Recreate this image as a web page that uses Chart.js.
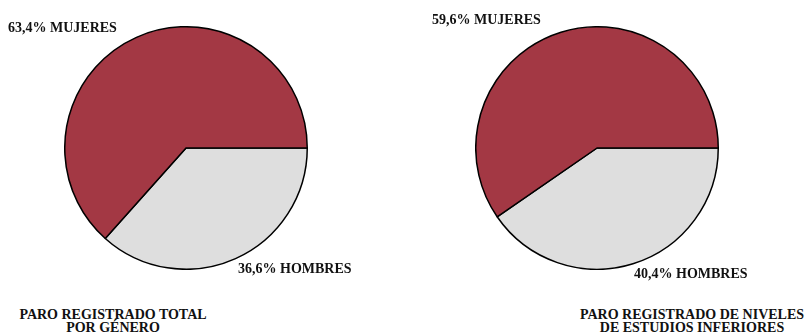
<!DOCTYPE html>
<html>
<head>
<meta charset="utf-8">
<script src="https://cdn.jsdelivr.net/npm/chart.js@4"></script>
<style>
  body { margin: 0; background: #fff; width: 805px; height: 335px; position: relative; overflow: hidden; }
  .pie { position: absolute; width: 244px; height: 244px; }
  .lbl { position: absolute; font-family: "Liberation Serif", "Times New Roman", serif; font-weight: bold; font-size: 14px; color: #111; white-space: nowrap; line-height: 14px; }
  .title { text-align: center; line-height: 13px; }
</style>
</head>
<body>
<div class="pie" style="left:64px; top:26px;"><canvas id="pieTotal"></canvas></div>
<div class="pie" style="left:475px; top:26px;"><canvas id="pieEstudios"></canvas></div>

<div class="lbl" id="lblMujeres1" style="left:8px; top:21px;"></div>
<div class="lbl" id="lblHombres1" style="left:238px; top:262px;"></div>
<div class="lbl" id="lblMujeres2" style="left:432px; top:13px;"></div>
<div class="lbl" id="lblHombres2" style="left:634px; top:267px;"></div>
<div class="lbl title" style="left:13px; width:200px; top:308px;">PARO REGISTRADO TOTAL<br>POR GÉNERO</div>
<div class="lbl title" style="left:572px; width:240px; top:308px;">PARO REGISTRADO DE NIVELES<br>DE ESTUDIOS INFERIORES</div>

<script>
// Categories and values (percent)
const categories = ['HOMBRES', 'MUJERES'];
const totalValues = [36.6, 63.4];
const estudiosValues = [40.4, 59.6];

const sliceColors = ['#dedede', '#a33844'];

function fmt(v) {
    return v.toFixed(1).replace('.', ',') + '%';
}

function makePie(id, values) {
    const ctx = document.getElementById(id).getContext('2d');
    new Chart(ctx, {
        type: 'pie',
        data: {
            labels: categories,
            datasets: [{
                data: values,
                backgroundColor: sliceColors,
                borderColor: '#000',
                borderWidth: 1.5
            }]
        },
        options: {
            responsive: true,
            maintainAspectRatio: false,
            animation: false,
            rotation: 90,
            layout: { padding: 0 },
            plugins: { legend: { display: false }, tooltip: { enabled: false } }
        }
    });
}

makePie('pieTotal', totalValues);
makePie('pieEstudios', estudiosValues);

document.getElementById('lblMujeres1').textContent = fmt(totalValues[1]) + ' ' + categories[1];
document.getElementById('lblHombres1').textContent = fmt(totalValues[0]) + ' ' + categories[0];
document.getElementById('lblMujeres2').textContent = fmt(estudiosValues[1]) + ' ' + categories[1];
document.getElementById('lblHombres2').textContent = fmt(estudiosValues[0]) + ' ' + categories[0];
</script>
</body>
</html>
